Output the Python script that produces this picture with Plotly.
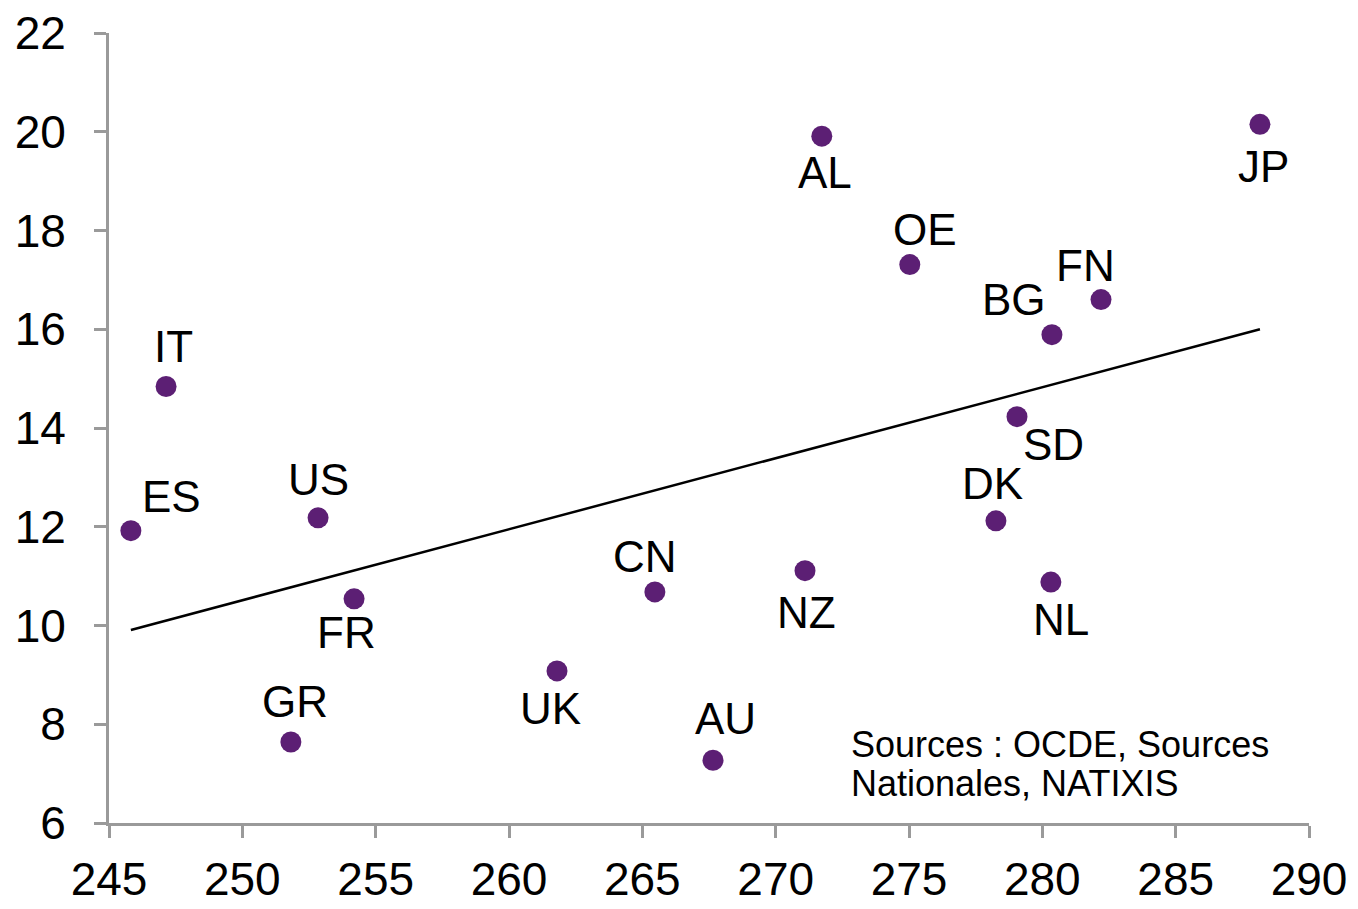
import plotly.graph_objects as go

# country codes and values
countries = ["ES", "IT", "US", "FR", "GR", "UK", "CN", "AU", "NZ",
             "AL", "OE", "BG", "FN", "SD", "DK", "NL", "JP"]
x_vals = [245.82, 247.14, 252.84, 254.19, 251.82, 261.80, 265.47, 267.65, 271.10,
          271.73, 275.03, 280.36, 282.20, 279.05, 278.26, 280.32, 288.16]
y_vals = [11.92, 14.84, 12.18, 10.54, 7.64, 9.08, 10.68, 7.27, 11.11,
          19.91, 17.31, 15.89, 16.60, 14.23, 12.12, 10.88, 20.15]

# trend line end points
trend_x = [245.82, 288.16]
trend_y = [9.91, 16.00]

x_ticks = [245, 250, 255, 260, 265, 270, 275, 280, 285, 290]
y_ticks = [6, 8, 10, 12, 14, 16, 18, 20, 22]

source_lines = ["Sources : OCDE, Sources", "Nationales, NATIXIS"]

# label offsets in pixels (dx, dy up)
offsets = {
    "ES": (41, 34), "IT": (7, 40), "US": (0, 38), "FR": (-8, -34),
    "GR": (4, 41), "UK": (-7, -38), "CN": (-10, 35), "AU": (12, 42),
    "NZ": (1, -42), "AL": (3, -36), "OE": (15, 35), "BG": (-38, 35),
    "FN": (-16, 34), "SD": (36, -28), "DK": (-3, 37), "NL": (10, -37),
    "JP": (4, -42),
}

FONT = "Liberation Sans, Arial, sans-serif"

fig = go.Figure()
fig.add_trace(go.Scatter(
    x=trend_x, y=trend_y, mode="lines",
    line=dict(color="black", width=2.5), hoverinfo="skip",
))
fig.add_trace(go.Scatter(
    x=x_vals, y=y_vals, mode="markers", text=countries,
    marker=dict(color="#5c1f74", size=21),
))

for c, xv, yv in zip(countries, x_vals, y_vals):
    dx, dy = offsets[c]
    fig.add_annotation(
        x=xv, y=yv, text=c, showarrow=False,
        xshift=dx, yshift=dy,
        font=dict(family=FONT, size=44, color="black"),
    )

# source note, one annotation per line
for i, line in enumerate(source_lines):
    fig.add_annotation(
        x=272.75, y=7.6 - i * 0.81, text=line, showarrow=False,
        xanchor="left", yanchor="middle",
        font=dict(family=FONT, size=36, color="black"),
    )

axis_style = dict(
    showgrid=False, zeroline=False, showline=True, automargin=False,
    linecolor="#9a9a9a", linewidth=3,
    ticks="outside", ticklen=12, tickwidth=3, tickcolor="#9a9a9a",
    tickfont=dict(family=FONT, size=46, color="black"),
    ticklabeloverflow="allow",
)

fig.update_xaxes(range=[245, 290], tickvals=x_ticks, ticklabelstandoff=2, **axis_style)
fig.update_yaxes(range=[6, 22], tickvals=y_ticks, ticklabelstandoff=19, **axis_style)

# page body adds an 8px offset, so the figure is sized to fit inside it
fig.update_layout(
    width=1350, height=901,
    margin=dict(l=101, r=49, t=25, b=86),
    plot_bgcolor="white", paper_bgcolor="white",
    showlegend=False,
)

fig.write_html("out.html")
